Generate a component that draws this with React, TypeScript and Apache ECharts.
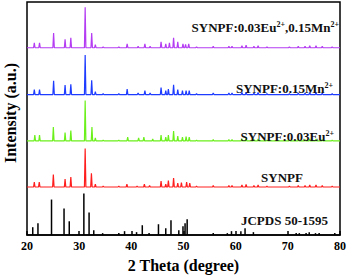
import React, { useEffect, useRef } from "react";
import * as echarts from "echarts";

// XRD peaks: [2θ (degree), intensity (a.u.)]
const purplePeaks: [number, number][] = [
  [21.4, 5], [22.4, 5], [25.1, 15], [27.3, 8.5], [28.4, 10], [31.15, 41], [32.4, 15], [33.1, 3],
  [34.6, 1], [37.6, 1], [39.2, 4], [41.3, 1.5], [42.6, 4], [43.6, 1.5], [45.7, 6], [46.6, 4],
  [47.3, 5], [48.1, 10], [48.9, 6], [49.9, 4], [50.4, 3.5], [51.0, 4], [52.5, 1], [55.7, 1.5],
  [58.7, 1.5], [59.3, 1.5], [61.2, 2], [62.0, 2.5], [63.5, 1.5], [64.3, 2], [66.0, 1],
  [70.3, 1], [72.0, 1.5], [73.3, 1.5], [74.2, 2], [75.4, 2], [76.6, 1.5], [78.5, 1],
];
const bluePeaks: [number, number][] = [
  [21.4, 5], [22.4, 5], [25.1, 14], [27.3, 9.5], [28.4, 10.5], [31.15, 40], [32.4, 14.5], [33.1, 3],
  [34.6, 1], [37.6, 1], [39.2, 5.5], [41.3, 1.5], [42.6, 4], [43.6, 1.5], [45.7, 7], [46.6, 4],
  [47.1, 5.5], [48.1, 10], [48.9, 5], [49.8, 4], [50.5, 4], [51.1, 4], [52.5, 1], [55.7, 1.5],
  [58.7, 1.5], [59.3, 1.5], [61.2, 2], [62.0, 2.5], [63.5, 1.5], [64.3, 2], [66.0, 1],
  [70.3, 1], [72.0, 1.5], [73.3, 1.5], [74.2, 2], [75.4, 2], [76.6, 1.5], [78.5, 1],
];
const greenPeaks: [number, number][] = [
  [21.5, 6], [22.4, 6], [25.05, 14], [27.3, 8.5], [28.4, 10.5], [31.15, 41], [32.45, 14], [33.1, 3],
  [34.6, 1], [37.6, 1], [39.3, 4], [41.4, 3], [42.4, 4], [44.1, 2], [45.7, 6], [46.6, 4],
  [47.1, 6], [48.1, 10], [48.9, 5], [49.8, 4], [50.5, 4.5], [51.1, 4], [52.5, 1], [55.7, 1.5],
  [58.7, 1.5], [59.3, 1.5], [61.2, 2], [62.0, 2.5], [63.5, 1.5], [64.3, 2], [66.0, 1],
  [70.3, 1], [72.0, 1.5], [73.3, 1.5], [74.2, 2], [75.4, 2], [76.6, 1.5], [78.5, 1],
];
const redPeaks: [number, number][] = [
  [21.4, 5], [22.35, 5], [25.05, 12.5], [27.3, 8], [28.4, 10], [31.15, 39], [32.35, 14], [33.1, 3],
  [34.6, 1], [37.6, 1], [39.15, 3], [41.1, 1], [42.5, 3], [43.5, 1.5], [45.7, 6], [46.6, 3],
  [47.1, 6.5], [48.1, 9], [48.9, 4], [49.6, 4.5], [50.6, 5], [51.2, 4], [52.5, 1], [55.7, 1.5],
  [58.7, 1.5], [59.3, 1.5], [61.2, 2], [62.0, 2.5], [63.5, 1.5], [64.3, 2], [66.0, 1],
  [70.3, 1], [72.0, 1.5], [73.3, 1.5], [74.2, 2], [75.4, 2], [76.6, 1.5], [78.5, 1],
];
// JCPDS 50-1595 standard lines
const jcpdsLines: [number, number][] = [
  [21.1, 8], [22.1, 12], [24.7, 36], [27.1, 27], [28.1, 14], [30.9, 42], [31.9, 23], [32.8, 5],
  [34.5, 2], [37.6, 2], [38.7, 4], [41.0, 3], [42.1, 10], [43.4, 2], [45.2, 11], [46.6, 7],
  [47.6, 15], [49.1, 5], [49.9, 9], [50.3, 12], [50.7, 16], [55.7, 2], [58.4, 2], [59.2, 4],
  [61.0, 4], [61.8, 7], [63.4, 3], [71.6, 2], [72.2, 2], [73.5, 2], [74.1, 3], [75.3, 2],
  [76.0, 2], [79.0, 2],
];

const curveNames = ["SYNPF:0.03Eu2+,0.15Mn2+", "SYNPF:0.15Mn2+", "SYNPF:0.03Eu2+", "SYNPF"];
const curvePeaks = [purplePeaks, bluePeaks, greenPeaks, redPeaks];
const curveOffsets = [189.7, 142.3, 95.3, 48.7];
const curveColors = ["#b43cf2", "#1e3cff", "#6cf01c", "#ff1e1e"];
const xMin = 20;
const xMax = 80;
const xStep = 10;

function buildCurve(peaks: [number, number][], offset: number): [number, number][] {
  const hw = 0.14;
  const pts: [number, number][] = [[xMin, offset]];
  [...peaks].sort((a, b) => a[0] - b[0]).forEach(([p, h]) => {
    pts.push([p - hw, offset], [p, offset + h], [p + hw, offset]);
  });
  pts.push([xMax, offset]);
  return pts;
}

const serif = "'Liberation Serif', 'Times New Roman', serif";

export default function App() {
  const ref = useRef<HTMLDivElement>(null);
  useEffect(() => {
    if (!ref.current) return;
    const chart = echarts.init(ref.current, undefined, { renderer: "svg" });
    const rich = {
      b: { fontFamily: serif, fontWeight: "bold", fontSize: 13, fill: "#111" },
      s: { fontFamily: serif, fontWeight: "bold", fontSize: 8, fill: "#111", verticalAlign: "top", lineHeight: 10 },
    };
    const label = (text: string, x: number, y: number, align = "right") => ({
      type: "text",
      x,
      y,
      style: { text, rich, align, verticalAlign: "middle", fill: "#111", font: `bold 13px ${serif}` },
      z: 100,
    });
    chart.setOption({
      animation: false,
      grid: { left: 27, right: 8, top: 2, bottom: 40, show: true, borderColor: "#000", borderWidth: 1.5 },
      xAxis: {
        type: "value",
        min: xMin,
        max: xMax,
        interval: xStep,
        name: "2 Theta (degree)",
        nameLocation: "middle",
        nameGap: 20,
        nameTextStyle: { fontFamily: serif, fontWeight: "bold", fontSize: 16, color: "#000" },
        axisLine: { lineStyle: { color: "#000", width: 1.5 } },
        axisTick: { inside: true, length: 4, lineStyle: { color: "#000", width: 1.5 } },
        axisLabel: { fontFamily: serif, fontWeight: "bold", fontSize: 12, color: "#000", margin: 5 },
        splitLine: { show: false },
      },
      yAxis: {
        type: "value",
        min: 0,
        max: 236,
        axisLine: { show: false },
        axisTick: { show: false },
        axisLabel: { show: false },
        splitLine: { show: false },
      },
      graphic: [
        {
          type: "text",
          x: 10,
          y: 113,
          rotation: Math.PI / 2,
          style: { text: "Intensity (a.u.)", align: "center", verticalAlign: "middle", fill: "#000", font: `bold 16px ${serif}` },
        },
        label("{b|SYNPF:0.03Eu}{s|2+}{b|,0.15Mn}{s|2+}", 339, 27),
        label("{b|SYNPF:0.15Mn}{s|2+}", 333, 88),
        label("{b|SYNPF:0.03Eu}{s|2+}", 334, 136),
        label("{b|SYNPF}", 303, 177),
        label("{b|JCPDS 50-1595}", 328, 220),
      ],
      series: [
        ...curvePeaks.map((peaks, i) => ({
          type: "line",
          name: curveNames[i],
          data: buildCurve(peaks, curveOffsets[i]),
          showSymbol: false,
          symbol: "none",
          lineStyle: { color: curveColors[i], width: 1.2 },
          itemStyle: { color: curveColors[i] },
        })),
        {
          type: "bar",
          name: "JCPDS 50-1595",
          data: jcpdsLines,
          barWidth: 1.5,
          itemStyle: { color: "#000" },
        },
      ],
    });
    return () => chart.dispose();
  }, []);
  return <div ref={ref} style={{ position: "absolute", left: 0, top: 0, width: 349, height: 278, background: "#fff" }} />;
}
